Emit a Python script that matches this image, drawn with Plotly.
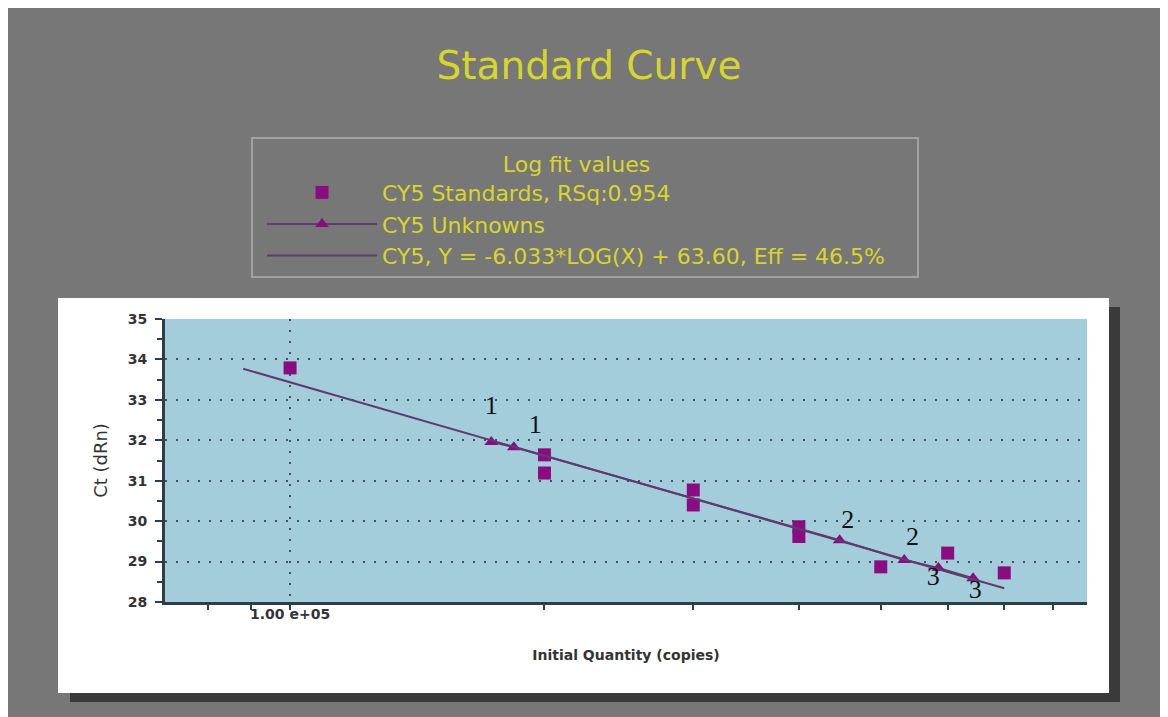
import plotly.graph_objects as go

# ---------------- data ----------------
std_qty = [1e5, 2e5, 2e5, 3e5, 3e5, 4e5, 4e5, 5e5, 6e5, 7e5]
std_ct = [33.79, 31.64, 31.19, 30.77, 30.40, 29.86, 29.62, 28.87, 29.21, 28.72]

unk_qty = [1.73e5, 1.84e5, 4.47e5, 5.33e5, 5.85e5, 6.43e5]
unk_ct = [31.96, 31.83, 29.53, 29.04, 28.84, 28.59]

fit_qty = [8.8e4, 7.0e5]
fit_ct = [33.77, 28.34]

label_text = ["1", "1", "2", "2", "3", "3"]
label_qty = [1.73e5, 1.95e5, 4.57e5, 5.45e5, 5.77e5, 6.47e5]
label_ct = [32.80, 32.33, 29.98, 29.58, 28.59, 28.25]

x_tickvals = [1e5]
x_ticktext = ["1.00 e+05"]
x_minor_ticks = [8e4, 9e4, 2e5, 3e5, 4e5, 5e5, 6e5, 7e5, 8e5]

series_names = [
    "CY5 Standards, RSq:0.954",
    "CY5 Unknowns",
    "CY5, Y = -6.033*LOG(X) + 63.60, Eff = 46.5%",
]

# ---------------- layout helpers ----------------
W, H = 1168, 717
OFF = 8  # page body margin
L, R, T, B = 165 - OFF, 1087 - OFF, 319 - OFF, 602 - OFF


def px(x):
    return (x - OFF - L) / (R - L)


def py(y):
    return (B - (y - OFF)) / (B - T)


YELLOW = "#d6d62c"
PURPLE = "#8a0c80"
LINEC = "#5f3b70"
AXISC = "#2e3e48"

fig = go.Figure()

fig.add_trace(go.Scatter(
    x=std_qty, y=std_ct, mode="markers", name=series_names[0],
    marker=dict(symbol="square", size=13, color=PURPLE),
))
fig.add_trace(go.Scatter(
    x=unk_qty, y=unk_ct, mode="lines+markers", name=series_names[1],
    marker=dict(symbol="triangle-up", size=12, color=PURPLE),
    line=dict(color=LINEC, width=2),
))
fig.add_trace(go.Scatter(
    x=fit_qty, y=fit_ct, mode="lines", name=series_names[2],
    line=dict(color=LINEC, width=2),
))
fig.add_trace(go.Scatter(
    x=label_qty, y=label_ct, mode="text", text=label_text,
    textfont=dict(family="Liberation Serif", size=26, color="#111111"),
    showlegend=False, hoverinfo="skip",
))

shapes = [
    # shadow of white panel
    dict(type="rect", xref="paper", yref="paper", x0=px(70), x1=px(1120), y0=py(307), y1=py(702),
         fillcolor="#3a3a3a", line=dict(width=0), layer="below"),
    # white panel
    dict(type="rect", xref="paper", yref="paper", x0=px(58), x1=px(1109), y0=py(298), y1=py(693),
         fillcolor="white", line=dict(width=0), layer="below"),
    # plot area
    dict(type="rect", xref="paper", yref="paper", x0=0, x1=1, y0=0, y1=1,
         fillcolor="#a4cddb", line=dict(width=0), layer="below"),
    # legend box
    dict(type="rect", xref="paper", yref="paper", x0=px(252), x1=px(918), y0=py(277), y1=py(138),
         fillcolor="rgba(0,0,0,0)", line=dict(color="#a2a2a2", width=2), layer="below"),
]

tickfont = dict(family="DejaVu Sans", size=14, color="#333333", weight="bold")

fig.update_layout(
    width=W, height=H,
    margin=dict(l=L, r=W - R, t=T, b=H - B, autoexpand=False),
    paper_bgcolor="#777777",
    plot_bgcolor="rgba(0,0,0,0)",
    shapes=shapes,
    title=dict(text="Standard Curve", x=(589 - OFF) / W, xanchor="center", xref="container",
               y=1 - (65 - OFF) / H, yanchor="middle", yref="container",
               font=dict(family="DejaVu Sans", size=39, color=YELLOW)),
    legend=dict(
        x=px(262), y=py(143), xanchor="left", yanchor="top",
        bgcolor="rgba(0,0,0,0)", borderwidth=0,
        font=dict(family="DejaVu Sans", size=22, color=YELLOW),
        title=dict(text="Log fit values", side="top center",
                   font=dict(family="DejaVu Sans", size=22, color=YELLOW)),
        itemwidth=110, tracegroupgap=0,
    ),
    xaxis=dict(
        type="log", range=[4.852, 5.943],
        tickmode="array", tickvals=x_tickvals, ticktext=x_ticktext,
        showgrid=True, gridcolor="#44525c", gridwidth=2, griddash="2px,9px",
        showline=True, linecolor=AXISC, linewidth=3,
        ticks="outside", ticklen=5, tickwidth=2, tickcolor=AXISC,
        tickfont=tickfont, zeroline=False, ticklabelstandoff=-8,
        minor=dict(tickmode="array", tickvals=x_minor_ticks, ticks="outside",
                   ticklen=5, tickwidth=2, tickcolor=AXISC, showgrid=False),
        title=dict(text="Initial Quantity (copies)", standoff=30,
                   font=dict(family="DejaVu Sans", size=14, color="#333333", weight="bold")),
    ),
    yaxis=dict(
        range=[28, 35], dtick=1, tick0=28,
        showgrid=True, gridcolor="#44525c", gridwidth=2, griddash="2px,9px",
        showline=True, linecolor=AXISC, linewidth=3,
        ticks="outside", ticklen=7, tickwidth=2, tickcolor=AXISC,
        tickfont=tickfont, zeroline=False, ticklabelstandoff=5,
        minor=dict(dtick=0.5, ticks="outside", ticklen=5, tickwidth=2,
                   tickcolor=AXISC, showgrid=False),
        title=dict(text="Ct (dRn)", standoff=16,
                   font=dict(family="DejaVu Sans", size=18, color="#333333")),
    ),
    showlegend=True,
)

fig.write_html("out.html")
